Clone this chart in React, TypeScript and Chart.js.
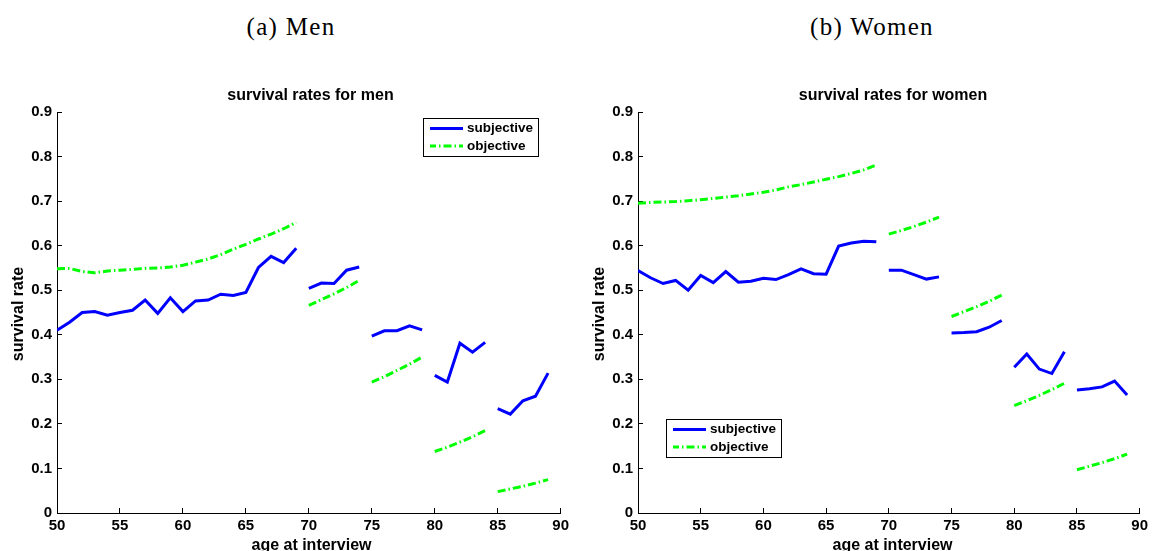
import React, { useEffect, useRef } from "react";
import { Chart, registerables } from "chart.js";

Chart.register(...registerables);

// ---------- data ----------
const AGES = [
  50, 51, 52, 53, 54, 55, 56, 57, 58, 59, 60, 61, 62, 63, 64, 65, 66, 67, 68, 69,
  70, 71, 72, 73, 74, 75, 76, 77, 78, 79, 80, 81, 82, 83, 84, 85, 86, 87, 88, 89,
];
const GROUP_ENDS = [69, 74, 79, 84];

const MEN_SUBJECTIVE = [
  0.41, 0.428, 0.45, 0.452, 0.444, 0.45, 0.455, 0.478, 0.448, 0.483, 0.452, 0.476, 0.478, 0.491, 0.488, 0.495, 0.551, 0.576, 0.562, 0.594,
  0.504, 0.516, 0.515, 0.545, 0.552,
  0.397, 0.409, 0.409, 0.42, 0.411,
  0.309, 0.294, 0.381, 0.361, 0.383,
  0.234, 0.222, 0.252, 0.262, 0.314,
];
const MEN_OBJECTIVE = [
  0.548, 0.549, 0.542, 0.539, 0.543, 0.545, 0.547, 0.549, 0.55, 0.552, 0.556, 0.563, 0.57, 0.58, 0.592, 0.603, 0.615, 0.626, 0.638, 0.652,
  0.466, 0.479, 0.492, 0.506, 0.522,
  0.294, 0.306, 0.32, 0.334, 0.35,
  0.138, 0.148, 0.159, 0.171, 0.185,
  0.048, 0.054, 0.06, 0.067, 0.075,
];
const WOMEN_SUBJECTIVE = [
  0.544, 0.528, 0.515, 0.522, 0.5, 0.533, 0.517, 0.542, 0.518, 0.52, 0.527, 0.524, 0.535, 0.548, 0.537, 0.536, 0.599, 0.606, 0.61, 0.609,
  0.545, 0.545, 0.535, 0.525, 0.53,
  0.404, 0.405, 0.407, 0.417, 0.432,
  0.327, 0.357, 0.323, 0.313, 0.362,
  0.276, 0.279, 0.283, 0.296, 0.265,
];
const WOMEN_OBJECTIVE = [
  0.695, 0.697, 0.698, 0.699, 0.701, 0.703, 0.706, 0.709, 0.712, 0.716, 0.72, 0.725, 0.732, 0.737, 0.743, 0.749, 0.755, 0.762, 0.77, 0.781,
  0.626, 0.634, 0.643, 0.653, 0.664,
  0.441, 0.452, 0.463, 0.475, 0.489,
  0.241, 0.252, 0.264, 0.277, 0.291,
  0.097, 0.105, 0.113, 0.122, 0.132,
];

const X_MIN = 50;
const X_MAX = 90;
const X_STEP = 5;
const Y_MIN = 0;
const Y_MAX = 0.9;
const Y_STEP = 0.1;

const SERIES_LABELS = ["subjective", "objective"];
const X_TITLE = "age at interview";
const Y_TITLE = "survival rate";

// ---------- helpers ----------
function toPoints(values: number[]) {
  const pts: { x: number; y: number | null }[] = [];
  AGES.forEach((a, i) => {
    pts.push({ x: a, y: values[i] });
    if (GROUP_ENDS.includes(a)) pts.push({ x: a + 0.5, y: null });
  });
  return pts;
}

const BLUE = "#0000ff";
const GREEN = "#00ff00";
const DASH = [8, 3, 1.5, 3];
const SANS = '"Liberation Sans", Arial, Helvetica, sans-serif';

const overlayPlugin = {
  id: "overlay",
  afterDraw(chart: any, _args: any, o: any) {
    const ctx = chart.ctx as CanvasRenderingContext2D;
    const off = o.left;
    ctx.save();
    ctx.fillStyle = "#000";
    ctx.font = `bold 16px ${SANS}`;
    ctx.textAlign = "center";
    ctx.textBaseline = "alphabetic";
    ctx.fillText(o.title, o.titleX - off, o.titleY);
    ctx.fillText(X_TITLE, o.xTitleX - off, o.xTitleY);
    ctx.save();
    ctx.translate(o.yTitleX - off, o.yTitleY);
    ctx.rotate(-Math.PI / 2);
    ctx.fillText(Y_TITLE, 0, 0);
    ctx.restore();

    // legend
    const L = o.legend;
    const lx = L.x - off;
    ctx.fillStyle = "#fff";
    ctx.fillRect(lx, L.y, L.w, L.h);
    ctx.strokeStyle = "#000";
    ctx.lineWidth = 1;
    ctx.setLineDash([]);
    ctx.strokeRect(lx + 0.5, L.y + 0.5, L.w, L.h);

    const y1 = L.y + 10.5;
    const y2 = L.y + 28;
    ctx.lineWidth = 3;
    ctx.strokeStyle = BLUE;
    ctx.beginPath();
    ctx.moveTo(lx + 7, y1);
    ctx.lineTo(lx + 40, y1);
    ctx.stroke();
    ctx.strokeStyle = GREEN;
    ctx.setLineDash(DASH);
    ctx.lineDashOffset = 2;
    ctx.beginPath();
    ctx.moveTo(lx + 7, y2);
    ctx.lineTo(lx + 40, y2);
    ctx.stroke();
    ctx.setLineDash([]);

    ctx.fillStyle = "#000";
    ctx.textAlign = "left";
    ctx.textBaseline = "middle";
    ctx.font = `bold 13.5px ${SANS}`;
    ctx.fillText(SERIES_LABELS[0], lx + 44, y1);
    ctx.fillText(SERIES_LABELS[1], lx + 44, y2);
    ctx.restore();
  },
};

type PanelProps = {
  canvasLeft: number;
  canvasWidth: number;
  plotLeft: number;
  plotRight: number;
  subjective: number[];
  objective: number[];
  title: string;
  titleX: number;
  legend: { x: number; y: number; w: number; h: number };
};

const PAGE_H = 551;
const PLOT_TOP = 112;
const PLOT_BOTTOM = 513;

function Panel(p: PanelProps) {
  const ref = useRef<HTMLCanvasElement | null>(null);
  useEffect(() => {
    if (!ref.current) return;
    const tickFont = { family: SANS, size: 15, weight: "bold" as const };
    const chart = new Chart(ref.current, {
      type: "line",
      data: {
        datasets: [
          {
            label: SERIES_LABELS[0],
            data: toPoints(p.subjective),
            borderColor: BLUE,
            borderWidth: 3,
            pointRadius: 0,
            tension: 0,
            spanGaps: false,
          },
          {
            label: SERIES_LABELS[1],
            data: toPoints(p.objective),
            borderColor: GREEN,
            borderWidth: 3,
            borderDash: DASH,
            pointRadius: 0,
            tension: 0,
            spanGaps: false,
          },
        ],
      },
      options: {
        animation: false,
        responsive: false,
        layout: {
          padding: {
            top: PLOT_TOP,
            left: 0,
            right: p.canvasWidth - (p.plotRight - p.canvasLeft),
            bottom: 0,
          },
        },
        plugins: {
          legend: { display: false },
          tooltip: { enabled: false },
          title: { display: false },
          overlay: {
            left: p.canvasLeft,
            title: p.title,
            titleX: p.titleX,
            titleY: 100,
            xTitleX: (p.plotLeft + p.plotRight) / 2,
            xTitleY: 550,
            yTitleX: p.plotLeft - 34,
            yTitleY: 314,
            legend: p.legend,
          },
        } as any,
        scales: {
          x: {
            type: "linear",
            min: X_MIN,
            max: X_MAX,
            afterFit: (s: any) => {
              s.height = PAGE_H - PLOT_BOTTOM;
            },
            ticks: { stepSize: X_STEP, color: "#000", font: tickFont, padding: 9, maxRotation: 0 },
            grid: { drawOnChartArea: false, drawTicks: true, tickLength: -5, color: "#000", lineWidth: 1 },
            border: { display: true, color: "#000", width: 1 },
          },
          y: {
            type: "linear",
            min: Y_MIN,
            max: Y_MAX,
            afterFit: (s: any) => {
              s.width = p.plotLeft - p.canvasLeft;
            },
            ticks: { stepSize: Y_STEP, color: "#000", font: tickFont, padding: 10 },
            grid: { drawOnChartArea: false, drawTicks: true, tickLength: -5, color: "#000", lineWidth: 1 },
            border: { display: true, color: "#000", width: 1 },
          },
        },
      },
      plugins: [overlayPlugin],
    });
    return () => chart.destroy();
  }, []);
  return (
    <canvas
      ref={ref}
      width={p.canvasWidth}
      height={PAGE_H}
      style={{ position: "absolute", left: p.canvasLeft, top: 0, width: p.canvasWidth, height: PAGE_H }}
    />
  );
}

const headerStyle: React.CSSProperties = {
  position: "absolute",
  top: 12,
  width: 240,
  textAlign: "center",
  fontFamily: '"Liberation Serif", "Times New Roman", serif',
  fontSize: 25,
  letterSpacing: 1.3,
  lineHeight: "30px",
  color: "#000",
};

export default function App() {
  return (
    <div style={{ position: "absolute", left: 0, top: 0, width: 1157, height: PAGE_H, background: "#fff", overflow: "hidden" }}>
      <div style={{ ...headerStyle, left: 291 - 120 }}>(a) Men</div>
      <div style={{ ...headerStyle, left: 872 - 120 }}>(b) Women</div>
      <Panel
        canvasLeft={0}
        canvasWidth={578}
        plotLeft={57}
        plotRight={566}
        subjective={MEN_SUBJECTIVE}
        objective={MEN_OBJECTIVE}
        title="survival rates for men"
        titleX={310.5}
        legend={{ x: 423, y: 118, w: 115, h: 38 }}
      />
      <Panel
        canvasLeft={578}
        canvasWidth={579}
        plotLeft={638}
        plotRight={1147}
        subjective={WOMEN_SUBJECTIVE}
        objective={WOMEN_OBJECTIVE}
        title="survival rates for women"
        titleX={893}
        legend={{ x: 666, y: 419, w: 115, h: 38 }}
      />
    </div>
  );
}
